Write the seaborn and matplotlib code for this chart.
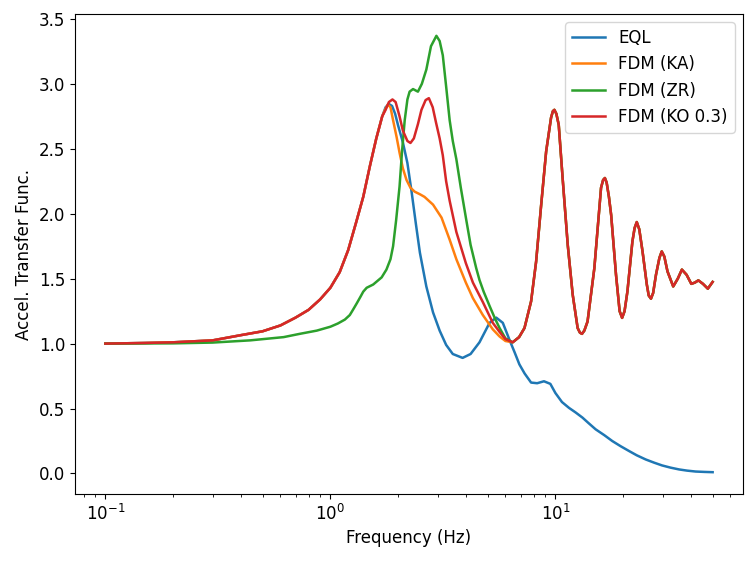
import numpy as np
import pandas as pd
import matplotlib
matplotlib.use("Agg")
import matplotlib.pyplot as plt
import seaborn as sns

# ---- data ----
series_names = ["EQL", "FDM (KA)", "FDM (ZR)", "FDM (KO 0.3)"]

# low-frequency branch shared by EQL, FDM (KA), FDM (KO 0.3)
freq_low_shared = [0.1, 0.15, 0.2, 0.3, 0.4, 0.5, 0.6, 0.7, 0.8, 0.9, 1.0, 1.1, 1.2, 1.3, 1.4, 1.5, 1.6, 1.7]
val_low_shared = [1.00, 1.005, 1.01, 1.025, 1.065, 1.095, 1.14, 1.20, 1.26, 1.34, 1.43, 1.55, 1.72, 1.93, 2.13, 2.37, 2.58, 2.75]

# EQL after 1.7 Hz
freq_eql = [1.76, 1.82, 1.88, 1.94, 2.0, 2.1, 2.2, 2.3, 2.4, 2.5, 2.67, 2.86, 3.06, 3.27, 3.5, 3.87, 4.2,
            4.6, 5.1, 5.46, 5.84, 6.25, 6.6, 6.92, 7.3, 7.8, 8.3, 8.9, 9.5, 10.0, 10.7, 11.5, 12.3, 13.2,
            14.0, 15.1, 16.5, 17.9, 19.5, 21.3, 23.0, 25.2, 27.5, 29.8, 32.5, 35.5, 38.5, 42.0, 46.0, 50.0]
val_eql = [2.82, 2.845, 2.83, 2.77, 2.68, 2.55, 2.39, 2.16, 1.92, 1.70, 1.44, 1.24, 1.10, 0.99, 0.92, 0.89, 0.92,
           1.01, 1.16, 1.20, 1.16, 1.03, 0.93, 0.84, 0.77, 0.70, 0.695, 0.71, 0.69, 0.62, 0.55, 0.505, 0.47, 0.43,
           0.39, 0.34, 0.295, 0.25, 0.21, 0.172, 0.14, 0.108, 0.083, 0.062, 0.045, 0.031, 0.022, 0.015, 0.012, 0.01]

# FDM (KA) between 1.7 Hz and 6.5 Hz
freq_ka = [1.75, 1.8, 1.85, 1.9, 1.97, 2.03, 2.1, 2.18, 2.27, 2.37, 2.5, 2.62, 2.86, 3.12, 3.39, 3.63,
           4.0, 4.3, 4.76, 5.27, 5.65, 6.0]
val_ka = [2.80, 2.84, 2.82, 2.72, 2.59, 2.47, 2.35, 2.26, 2.20, 2.17, 2.15, 2.13, 2.07, 1.97, 1.80, 1.65,
          1.47, 1.35, 1.22, 1.11, 1.055, 1.02]

# FDM (KO 0.3) between 1.7 Hz and 6.5 Hz
freq_ko = [1.76, 1.82, 1.888, 1.95, 2.03, 2.1, 2.2, 2.27, 2.35, 2.45, 2.54, 2.65, 2.74, 2.85, 2.95, 3.06,
           3.16, 3.27, 3.39, 3.63, 4.0, 4.3, 4.76, 5.27, 5.65, 6.0]
val_ko = [2.80, 2.86, 2.88, 2.86, 2.75, 2.64, 2.56, 2.545, 2.58, 2.69, 2.80, 2.875, 2.89, 2.82, 2.70, 2.58,
          2.45, 2.25, 2.10, 1.86, 1.62, 1.47, 1.32, 1.16, 1.09, 1.035]

# FDM (ZR) below 6.5 Hz
freq_zr = [0.1, 0.2, 0.3, 0.44, 0.62, 0.73, 0.87, 1.0, 1.08, 1.16, 1.22, 1.26, 1.31, 1.36, 1.4, 1.45, 1.55,
           1.69, 1.775, 1.85, 1.9, 1.96, 2.03, 2.08, 2.14, 2.2, 2.25, 2.33, 2.45, 2.55, 2.67, 2.8, 2.96,
           3.06, 3.16, 3.27, 3.39, 3.5, 3.63, 3.8, 4.02, 4.2, 4.45, 4.6, 4.8, 5.1, 5.4, 5.65, 6.0]
val_zr = [1.00, 1.002, 1.008, 1.025, 1.05, 1.075, 1.10, 1.13, 1.155, 1.185, 1.22, 1.26, 1.31, 1.36, 1.40, 1.43, 1.455,
          1.51, 1.57, 1.65, 1.75, 1.95, 2.21, 2.47, 2.72, 2.88, 2.94, 2.96, 2.94, 3.00, 3.11, 3.29, 3.37,
          3.33, 3.22, 2.98, 2.72, 2.56, 2.42, 2.20, 1.95, 1.76, 1.58, 1.49, 1.40, 1.29, 1.19, 1.12, 1.04]

# high-frequency branch shared by all three FDM models
freq_hi = [6.46, 6.9, 7.29, 7.8, 8.21, 8.65, 9.10, 9.57, 9.75, 9.90, 10.1, 10.35, 10.77, 11.35, 11.94, 12.56,
           12.85, 13.13, 13.45, 13.9, 14.9, 15.96, 16.3, 16.6, 16.9, 17.3, 17.7, 18.6, 19.3, 19.8, 20.3, 20.9,
           22.0, 22.5, 23.0, 23.6, 24.4, 25.5, 26.0, 26.6, 27.2, 28.0, 29.0, 29.7, 30.5, 31.5, 33.4, 35.0,
           36.5, 38.3, 40.2, 41.7, 43.2, 45.3, 47.6, 50.0]
val_hi = [1.01, 1.05, 1.12, 1.325, 1.63, 2.07, 2.48, 2.74, 2.79, 2.80, 2.77, 2.685, 2.275, 1.76, 1.377, 1.12,
          1.085, 1.075, 1.10, 1.17, 1.58, 2.20, 2.26, 2.275, 2.24, 2.13, 1.99, 1.53, 1.25, 1.198, 1.25, 1.40,
          1.787, 1.89, 1.936, 1.88, 1.71, 1.454, 1.37, 1.346, 1.39, 1.53, 1.66, 1.71, 1.67, 1.556, 1.44, 1.50,
          1.57, 1.53, 1.46, 1.47, 1.487, 1.46, 1.423, 1.475]

# ---- assemble long table ----
frames = []
def add(name, f, v):
    frames.append(pd.DataFrame({"freq": f, "value": v, "model": name}))

add("EQL", freq_low_shared + freq_eql, val_low_shared + val_eql)
add("FDM (KA)", freq_low_shared + freq_ka + freq_hi, val_low_shared + val_ka + val_hi)
add("FDM (ZR)", freq_zr + freq_hi, val_zr + val_hi)
add("FDM (KO 0.3)", freq_low_shared + freq_ko + freq_hi, val_low_shared + val_ko + val_hi)
df = pd.concat(frames, ignore_index=True)

# ---- plot ----
plt.rcParams["font.size"] = 12
fig, ax = plt.subplots(figsize=(7.56, 5.63), dpi=100)
fig.subplots_adjust(left=75/756, right=743/756, bottom=1-494/563, top=1-14/563)

palette = ["#1f77b4", "#ff7f0e", "#2ca02c", "#d62728"]
sns.lineplot(data=df, x="freq", y="value", hue="model", hue_order=series_names,
             palette=palette, estimator=None, sort=True, linewidth=1.8, ax=ax)
ax.set_xscale("log")
ax.set_xlabel("Frequency (Hz)")
ax.set_ylabel("Accel. Transfer Func.")
ax.set_yticks([0.0, 0.5, 1.0, 1.5, 2.0, 2.5, 3.0, 3.5])
sns.move_legend(ax, "upper right", title=None)

fig.savefig("out.png", dpi=100)
